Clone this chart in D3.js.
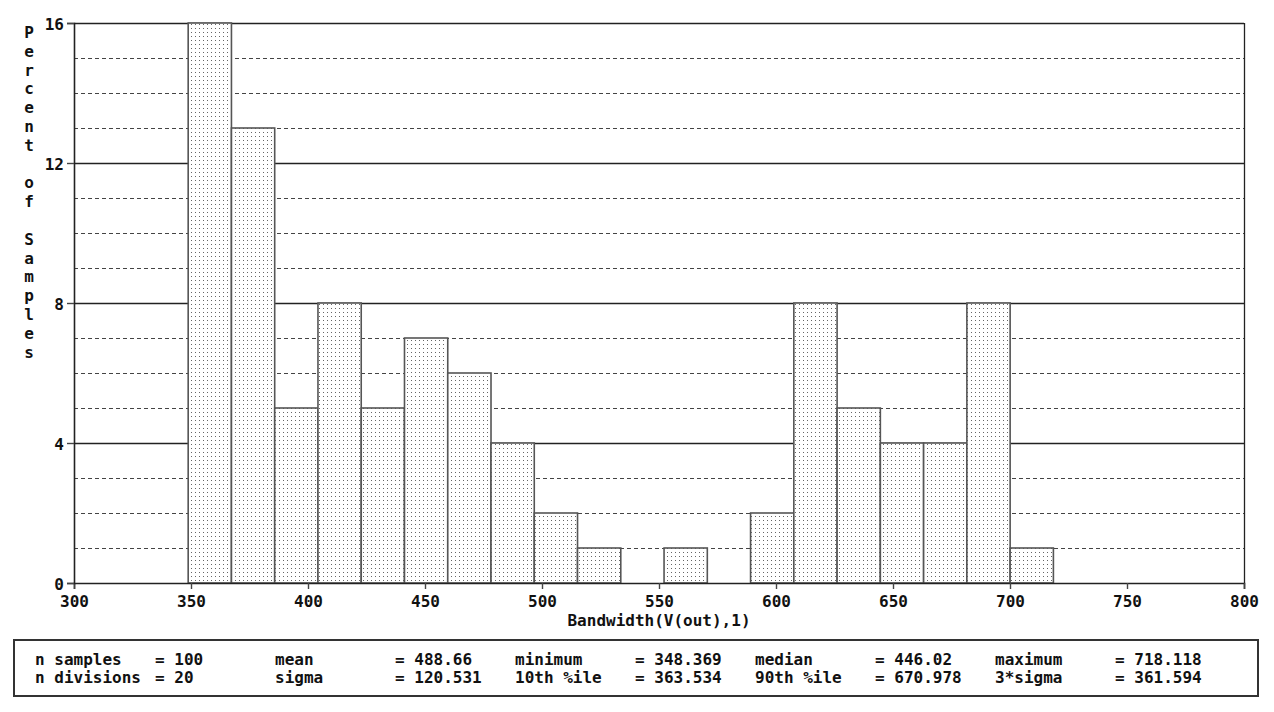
<!DOCTYPE html>
<html>
<head>
<meta charset="utf-8">
<script src="https://cdn.jsdelivr.net/npm/d3@7"></script>
<style>
  body { margin: 0; background: #fff; }
  text { font-family: "DejaVu Sans Mono", "Liberation Mono", monospace; font-weight: bold; fill: #111; }
</style>
</head>
<body>
<div id="chart-area"></div>
<script>
// Histogram data: 20 divisions between minimum and maximum
const binMin = 348.369
const binMax = 718.118
const percents = [16, 13, 5, 8, 5, 7, 6, 4, 2, 1, 0, 1, 0, 2, 8, 5, 4, 4, 8, 1]
const xTicks = [300, 350, 400, 450, 500, 550, 600, 650, 700, 750, 800]
const yTicks = [0, 4, 8, 12, 16]
const xTitle = 'Bandwidth(V(out),1)'
const yTitle = 'Percent of Samples'

// Statistics box, two rows of label/value pairs
const statRow1 = [['n samples', '= 100'], ['mean', '= 488.66'], ['minimum', '= 348.369'], ['median', '= 446.02'], ['maximum', '= 718.118']]
const statRow2 = [['n divisions', '= 20'], ['sigma', '= 120.531'], ['10th %ile', '= 363.534'], ['90th %ile', '= 670.978'], ['3*sigma', '= 361.594']]

const canvas = { width: 1274, height: 712 }
const margin = { left: 74, right: 30, top: 23, bottom: 129 }
const plot = {
	width: canvas.width - margin.left - margin.right,
	height: canvas.height - margin.top - margin.bottom
}
const fontSize = '16px'

const svg = d3.select('#chart-area')
	.append('svg')
		.attr('width', canvas.width)
		.attr('height', canvas.height)

// Dot fill used by the bars
const pat = svg.append('defs').append('pattern')
	.attr('id', 'dots')
	.attr('patternUnits', 'userSpaceOnUse')
	.attr('width', 4)
	.attr('height', 4)
pat.append('rect').attr('width', 4).attr('height', 4).attr('fill', '#fff')
pat.append('rect').attr('x', 1).attr('y', 1).attr('width', 1).attr('height', 1).attr('fill', '#666')

const g = svg.append('g')
	.attr('transform', `translate(${margin.left}, ${margin.top})`)

// Scales
const x = d3.scaleLinear().domain([300, 800]).range([0, plot.width])
const y = d3.scaleLinear().domain([0, 16]).range([plot.height, 0])

// Grid: solid at labelled values, dashed every 1%
const gridVals = d3.range(1, 17)
g.append('g').selectAll('line')
	.data(gridVals)
	.enter().append('line')
		.attr('x1', 0)
		.attr('x2', plot.width)
		.attr('y1', d => Math.round(y(d)) + 0.5)
		.attr('y2', d => Math.round(y(d)) + 0.5)
		.attr('stroke', d => yTicks.includes(d) ? '#222' : '#444')
		.attr('stroke-width', d => yTicks.includes(d) ? 1.3 : 1.2)
		.attr('stroke-dasharray', d => yTicks.includes(d) ? null : '4,3')

// Bars
const step = (binMax - binMin) / percents.length
const bins = percents.map((p, i) => ({ x0: binMin + i * step, x1: binMin + (i + 1) * step, p: p }))
g.append('g').selectAll('rect')
	.data(bins.filter(d => d.p > 0))
	.enter().append('rect')
		.attr('x', d => x(d.x0) + 1)
		.attr('y', d => y(d.p))
		.attr('width', d => x(d.x1) - x(d.x0))
		.attr('height', d => plot.height - y(d.p))
		.attr('fill', 'url(#dots)')
		.attr('stroke', '#555')
		.attr('stroke-width', 1.6)

// Right border
g.append('line')
	.attr('x1', plot.width + 0.5).attr('x2', plot.width + 0.5)
	.attr('y1', 0).attr('y2', plot.height)
	.attr('stroke', '#222').attr('stroke-width', 1.3)

// Axes
const xAxis = d3.axisBottom(x).tickValues(xTicks).tickSize(6).tickPadding(7)
const gx = g.append('g')
	.attr('transform', `translate(0, ${plot.height})`)
	.call(xAxis)
const yAxis = d3.axisLeft(y).tickValues(yTicks).tickSize(7).tickPadding(3)
const gy = g.append('g').call(yAxis)

;[gx, gy].forEach(a => {
	a.select('.domain').attr('stroke', '#222').attr('stroke-width', 1.6)
	a.selectAll('.tick line').attr('stroke', '#444').attr('stroke-width', 1.4)
	a.selectAll('.tick text')
		.style('font-family', '"DejaVu Sans Mono", monospace')
		.style('font-weight', 'bold')
		.style('font-size', fontSize)
		.attr('fill', '#111')
})
gy.selectAll('.tick text').attr('dy', '0.42em')

// Axis titles
g.append('text')
	.attr('x', x(550))
	.attr('y', plot.height + 43)
	.attr('text-anchor', 'middle')
	.style('font-size', fontSize)
	.text(xTitle)

svg.append('g').selectAll('text')
	.data(yTitle.split(''))
	.enter().append('text')
		.attr('x', 29)
		.attr('y', (d, i) => 38 + i * 18.8)
		.attr('text-anchor', 'middle')
		.style('font-size', fontSize)
		.text(d => d)

// Statistics box
const box = svg.append('g')
box.append('rect')
	.attr('x', 14).attr('y', 640)
	.attr('width', 1244).attr('height', 56)
	.attr('fill', '#fff')
	.attr('stroke', '#333')
	.attr('stroke-width', 2)

;[statRow1, statRow2].forEach((row, r) => {
	row.forEach((pair, c) => {
		box.append('text')
			.attr('x', 35 + c * 240)
			.attr('y', 665 + r * 18)
			.style('font-size', fontSize)
			.text(pair[0])
		box.append('text')
			.attr('x', 155 + c * 240)
			.attr('y', 665 + r * 18)
			.style('font-size', fontSize)
			.text(pair[1])
	})
})
</script>
</body>
</html>
